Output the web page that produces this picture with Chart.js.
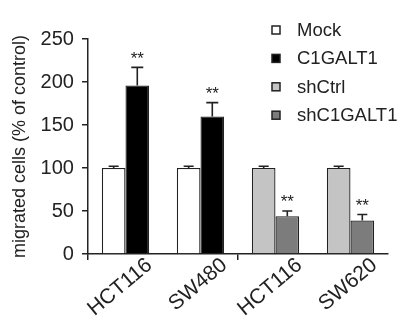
<!DOCTYPE html>
<html>
<head>
<meta charset="utf-8">
<script src="https://cdn.jsdelivr.net/npm/chart.js@4"></script>
<style>
  html, body { margin: 0; padding: 0; background: #fff; }
  #wrap { width: 405px; height: 330px; }
</style>
</head>
<body>
<div id="wrap"><canvas id="chart" width="405" height="330"></canvas></div>
<script>
const cellLines = ['HCT116', 'SW480', 'HCT116', 'SW620'];
const mock = [100, 100, null, null];
const mockErr = [2, 2, null, null];
const c1galt1 = [196, 160, null, null];
const c1galt1Err = [21, 16, null, null];
const shCtrl = [null, null, 100, 100];
const shCtrlErr = [null, null, 2, 2];
const shC1galt1 = [null, null, 44, 39];
const shC1galt1Err = [null, null, 6, 7];
const yTicks = [0, 50, 100, 150, 200, 250];

const ink = '#222';
const font = 'Liberation Sans, Arial, sans-serif';

// upper error bars plus ** marks
const errorBars = {
    id: 'errorBars',
    afterDatasetsDraw(chart) {
        const ctx = chart.ctx;
        const y = chart.scales.y;
        chart.data.datasets.forEach((ds, i) => {
            if (!ds.err) return;
            chart.getDatasetMeta(i).data.forEach((bar, j) => {
                const v = ds.data[j];
                if (v == null) return;
                const top = y.getPixelForValue(v + ds.err[j]);
                const cap = ds.err[j] > 10 ? 6 : 5;
                ctx.save();
                ctx.strokeStyle = ink;
                ctx.lineWidth = 1.6;
                ctx.beginPath();
                ctx.moveTo(bar.x, bar.y);
                ctx.lineTo(bar.x, top);
                ctx.moveTo(bar.x - cap, top);
                ctx.lineTo(bar.x + cap, top);
                ctx.stroke();
                if (ds.star) {
                    ctx.fillStyle = ink;
                    ctx.font = '17px ' + font;
                    ctx.textAlign = 'center';
                    ctx.textBaseline = 'bottom';
                    ctx.fillText('**', bar.x, top);
                }
                ctx.restore();
            });
        });
    }
};

// legend drawn over the upper right of the plot
const sideLegend = {
    id: 'sideLegend',
    afterDraw(chart) {
        const ctx = chart.ctx;
        chart.data.datasets.forEach((ds, i) => {
            const cy = 30 + i * 28.4;
            ctx.save();
            ctx.fillStyle = ds.backgroundColor;
            ctx.strokeStyle = ink;
            ctx.lineWidth = 1.5;
            ctx.fillRect(272, cy - 4, 8, 8);
            ctx.strokeRect(272, cy - 4, 8, 8);
            ctx.fillStyle = ink;
            ctx.font = '18.5px ' + font;
            ctx.textBaseline = 'middle';
            ctx.fillText(ds.label, 297, cy + 1);
            ctx.restore();
        });
    }
};

new Chart(document.getElementById('chart').getContext('2d'), {
    type: 'bar',
    data: {
        labels: cellLines,
        datasets: [
            { label: 'Mock', data: mock, err: mockErr, backgroundColor: '#ffffff' },
            { label: 'C1GALT1', data: c1galt1, err: c1galt1Err, star: true, backgroundColor: '#000000' },
            { label: 'shCtrl', data: shCtrl, err: shCtrlErr, backgroundColor: '#c4c4c4' },
            { label: 'shC1GALT1', data: shC1galt1, err: shC1galt1Err, star: true, backgroundColor: '#7c7c7c' }
        ]
    },
    options: {
        responsive: false,
        animation: false,
        skipNull: true,
        categoryPercentage: 0.63,
        barPercentage: 1.0,
        borderColor: ink,
        borderWidth: 1.3,
        layout: { padding: { top: 39, right: 17, left: 9, bottom: 0 } },
        plugins: {
            legend: { display: false },
            tooltip: { enabled: false }
        },
        scales: {
            x: {
                afterFit: s => { s.height = 76; },
                grid: {
                    drawOnChartArea: false,
                    tickLength: 6,
                    lineWidth: 1.5,
                    color: c => (c.index % 2 === 0 ? ink : 'rgba(0,0,0,0)')
                },
                border: { color: ink, width: 1.5 },
                ticks: {
                    color: ink,
                    font: { family: font, size: 21 },
                    minRotation: 40,
                    maxRotation: 40,
                    labelOffset: 24,
                    padding: -7
                }
            },
            y: {
                min: 0,
                max: 250,
                afterBuildTicks: axis => { axis.ticks = yTicks.map(v => ({ value: v })); },
                grid: { drawOnChartArea: false, tickLength: 6, lineWidth: 1.5, color: ink },
                border: { color: ink, width: 1.5 },
                ticks: {
                    color: ink,
                    font: { family: font, size: 20 },
                    padding: 8
                },
                title: {
                    display: true,
                    text: 'migrated cells (% of control)',
                    color: ink,
                    font: { family: font, size: 18 },
                    padding: { top: 0, bottom: 2 }
                }
            }
        }
    },
    plugins: [errorBars, sideLegend]
});
</script>
</body>
</html>
